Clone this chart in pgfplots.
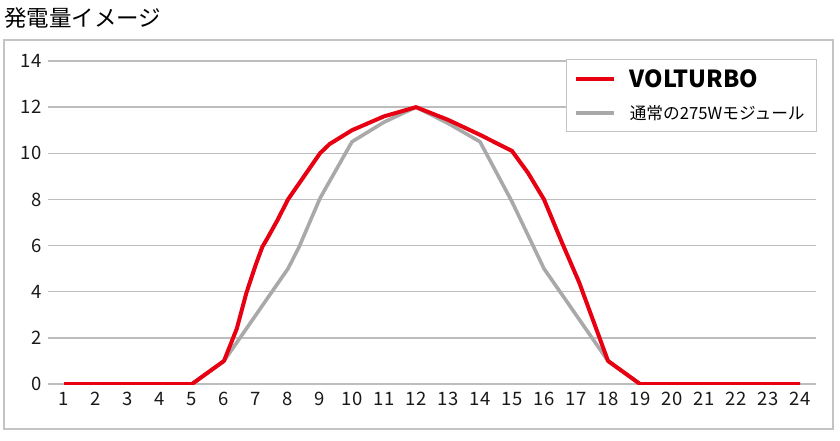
\documentclass[border=0pt]{standalone}
\usepackage{fontspec}
\setmainfont{Noto Sans CJK JP}
\usepackage{pgfplots}
\pgfplotsset{compat=1.18}

\definecolor{vred}{HTML}{E60012}
\definecolor{stdgray}{HTML}{A9A9A9}
\definecolor{gridgray}{HTML}{BDBDBD}
\definecolor{framegray}{HTML}{C4C4C4}

\begin{document}
\begin{tikzpicture}[x=1pt,y=1pt]
% page and outer frame
\path[use as bounding box] (0,0) rectangle (840,440);
\draw[framegray, line width=1.4pt] (4,11) rectangle (833,400);
\node[anchor=base west, inner sep=0pt, font=\fontsize{22.5}{24}\selectfont] at (4,413) {発電量イメージ};

\begin{axis}[
    at={(48pt,56pt)}, anchor=south west,
    scale only axis,
    width=768pt, height=323pt,
    xmin=0.5, xmax=24.5,
    ymin=0, ymax=14,
    xtick={1,...,24},
    ytick={0,2,...,14},
    axis line style={draw=none},
    major tick length=0pt,
    ymajorgrids,
    grid style={gridgray, line width=1.3pt},
    /pgf/number format/assume math mode=true,
    tick label style={font=\fontsize{18.5}{20}\selectfont, text=black!90},
    xticklabel style={yshift=-5pt},
    yticklabel style={xshift=-3pt},
    legend style={
        at={(1.001,1.007)}, anchor=north east,
        draw=framegray, line width=1.2pt, fill=white,
        inner xsep=8pt, inner ysep=7pt,
        row sep=9pt,
        nodes={inner sep=3.5pt},
        font=\fontsize{16.7}{18}\selectfont,
    },
    legend cell align=left,
    legend image code/.code={\draw[#1] (0pt,0pt) -- (38pt,0pt); \path (48pt,0pt);},
]
% standard 275W module (drawn first, below)
\addplot[stdgray, line width=3.6pt, line join=round, forget plot] coordinates {
 (1,0) (2,0) (3,0) (4,0) (5,0) (6,1) (7,3) (8,5) (8.35,5.95) (9,8.05)
 (10,10.5) (11,11.35) (12,12) (13,11.3) (14,10.5) (15,7.9) (16,5)
 (17,3) (18,1) (19,0) (20,0) (21,0) (22,0) (23,0) (24,0)
};
% VOLTURBO
\addplot[vred, line width=4pt, line join=round] coordinates {
 (1,0) (2,0) (3,0) (4,0) (5,0) (6,1) (6.4,2.4) (6.7,3.95) (7,5.2)
 (7.2,5.95) (7.35,6.3) (7.67,7.1) (8,8) (9,10) (9.3,10.4) (10,11)
 (11,11.6) (12,12) (13,11.45) (14,10.8) (15,10.1) (15.5,9.15) (16,8)
 (16.57,6.1) (17.1,4.4) (18,1) (19,0) (20,0) (21,0) (22,0) (23,0) (24,0)
};
\addlegendentry{\fontsize{23.5}{24}\selectfont\bfseries VOLTURBO}
\addlegendimage{stdgray, line width=3.6pt}
\addlegendentry{通常の275Wモジュール}
\end{axis}
\end{tikzpicture}
\end{document}
